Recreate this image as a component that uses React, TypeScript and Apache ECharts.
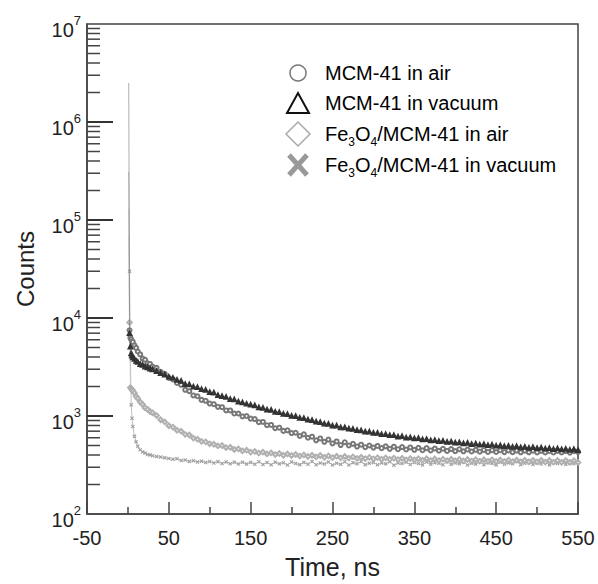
import React, { useEffect, useRef } from "react";
import * as echarts from "echarts";

const FONT = "'Liberation Sans', Arial, Helvetica, sans-serif";

// time axis (ns)
const times = [
  1, 2, 3, 4, 5, 6, 8, 10, 12, 15, 18, 21, 24, 27, 30, 35, 40, 45, 50,
  55, 60, 65, 70, 75, 80, 85, 90, 95, 100,
  105, 110, 115, 120, 125, 130, 135, 140, 145, 150,
  155, 160, 165, 170, 175, 180, 185, 190, 195, 200,
  205, 210, 215, 220, 225, 230, 235, 240, 245, 250,
  255, 260, 265, 270, 275, 280, 285, 290, 295, 300,
  305, 310, 315, 320, 325, 330, 335, 340, 345, 350,
  355, 360, 365, 370, 375, 380, 385, 390, 395, 400,
  405, 410, 415, 420, 425, 430, 435, 440, 445, 450,
  455, 460, 465, 470, 475, 480, 485, 490, 495, 500,
  505, 510, 515, 520, 525, 530, 535, 540, 545, 550,
];

// MCM-41 in vacuum
const mcmVacuum = [
  2500000, 7000, 5100, 4350, 4150, 3950, 3820, 3640, 3560, 3380, 3310, 3180, 3120, 3030, 2990, 2870, 2730, 2640, 2510,
  2450, 2330, 2280, 2110, 2100, 1990, 1960, 1870, 1840, 1750,
  1730, 1630, 1590, 1560, 1480, 1470, 1400, 1370, 1330, 1300,
  1280, 1220, 1210, 1160, 1150, 1100, 1090, 1050, 1040, 1000,
  995, 955, 950, 915, 905, 875, 865, 835, 830, 795,
  795, 765, 765, 740, 735, 715, 710, 690, 690, 670,
  670, 650, 650, 635, 635, 615, 620, 600, 605, 590,
  592, 575, 580, 562, 567, 553, 556, 543, 546, 533,
  538, 524, 530, 516, 522, 508, 514, 502, 508, 496,
  501, 490, 495, 484, 490, 478, 484, 472, 479, 468,
  474, 463, 470, 459, 465, 455, 461, 451, 457, 448,
];

// MCM-41 in air
const mcmAir = [
  130000, 7500, 6300, 6050, 5750, 5700, 5250, 4950, 4550, 4250, 3850, 3750, 3450, 3400, 3200, 3100, 2820, 2700, 2450,
  2360, 2170, 2080, 1850, 1790, 1620, 1590, 1460, 1430, 1340,
  1320, 1240, 1230, 1140, 1140, 1060, 1060, 990, 1000, 940,
  930, 865, 870, 805, 810, 750, 760, 705, 715, 670,
  675, 625, 650, 600, 615, 565, 590, 545, 575, 525,
  550, 505, 540, 500, 520, 488, 510, 480, 500, 476,
  495, 470, 490, 462, 486, 458, 482, 455, 478, 452,
  474, 447, 470, 445, 466, 442, 463, 440, 460, 438,
  458, 436, 455, 434, 452, 432, 450, 430, 448, 429,
  447, 428, 445, 427, 444, 426, 443, 426, 442, 425,
  441, 425, 440, 424, 440, 424, 439, 423, 438, 430,
];

// Fe3O4/MCM-41 in air
const feAir = [
  68000, 9000, 1950, 1900, 1850, 1800, 1720, 1590, 1510, 1390, 1310, 1210, 1170, 1110, 1080, 1010, 915, 870, 795,
  770, 715, 700, 650, 640, 595, 580, 550, 545, 520,
  515, 495, 500, 475, 480, 455, 462, 440, 448, 428,
  435, 418, 428, 410, 420, 404, 414, 398, 410, 395,
  405, 390, 401, 386, 398, 382, 395, 379, 392, 376,
  389, 374, 386, 371, 383, 369, 380, 367, 378, 365,
  376, 363, 374, 361, 372, 359, 370, 357, 368, 356,
  367, 354, 366, 352, 364, 351, 363, 350, 362, 349,
  361, 348, 360, 347, 359, 346, 358, 345, 357, 344,
  356, 343, 355, 342, 355, 341, 354, 340, 353, 340,
  353, 339, 352, 338, 352, 337, 351, 337, 350, 336,
];

// Fe3O4/MCM-41 in vacuum
const feVacuum = [
  310000, 30000, 4000, 1300, 950, 780, 620, 545, 490, 452, 430, 418, 405, 401, 393, 386, 381, 374, 368,
  362, 366, 352, 356, 344, 350, 339, 346, 335, 343,
  331, 342, 328, 340, 326, 338, 324, 337, 323, 336,
  322, 341, 320, 335, 318, 338, 325, 333, 316, 340,
  327, 319, 336, 322, 344, 318, 331, 324, 339, 317,
  330, 321, 341, 316, 334, 326, 343, 319, 329, 336,
  318, 332, 325, 342, 315, 331, 328, 338, 320, 335,
  327, 317, 340, 322, 333, 329, 318, 344, 321, 331,
  326, 339, 316, 330, 323, 341, 319, 334, 328, 317,
  337, 322, 331, 325, 343, 318, 329, 335, 320, 332,
  324, 340, 317, 333, 327, 339, 321, 330, 326, 334,
];

// log-axis tick structure
const decades = [100, 1000, 10000, 100000, 1000000];
const majorTickValues = [1000, 10000, 100000, 1000000];
const minorMultipliers = [2, 3, 4, 5, 6, 7, 8, 9];

const legendLabels = [
  "{n|MCM-41 in air}",
  "{n|MCM-41 in vacuum}",
  "{n|Fe}{s|3}{n|O}{s|4}{n|/MCM-41 in air}",
  "{n|Fe}{s|3}{n|O}{s|4}{n|/MCM-41 in vacuum}",
];

const X_PATH = "path://M2,0L5,3L8,0L10,2L7,5L10,8L8,10L5,7L2,10L0,8L3,5L0,2Z";

export default function App() {
  const ref = useRef<HTMLDivElement>(null);

  useEffect(() => {
    if (!ref.current) return;
    const chart = echarts.init(ref.current, undefined, { renderer: "svg" });

    // first point is the excitation spike: draw it as line only
    const pair = (arr: number[]) =>
      times.map((t, i) => (i === 0 ? { value: [t, arr[i]], symbol: "none" } : [t, arr[i]]));

    const minorTicks: number[][] = [];
    decades.forEach((d) => minorMultipliers.forEach((m) => minorTicks.push([-50, d * m])));

    const axisColor = "#444";

    const legendRich = {
      n: { fontSize: 20, fontFamily: FONT, color: "#222", lineHeight: 20, verticalAlign: "top" },
      s: { fontSize: 12, fontFamily: FONT, color: "#222", lineHeight: 12, padding: [12, 0, 0, 0], verticalAlign: "top" },
    };
    const rowsY = [73, 103, 134, 165];

    const legendGraphics: any[] = [
      {
        type: "circle",
        silent: true,
        shape: { cx: 298, cy: rowsY[0], r: 8 },
        style: { fill: "none", stroke: "#777", lineWidth: 1.5 },
      },
      {
        type: "polygon",
        silent: true,
        shape: { points: [[287, rowsY[1] + 10], [309, rowsY[1] + 10], [298, rowsY[1] - 10]] },
        style: { fill: "none", stroke: "#111", lineWidth: 2 },
      },
      {
        type: "polygon",
        silent: true,
        shape: { points: [[298, rowsY[2] - 12], [310, rowsY[2]], [298, rowsY[2] + 12], [286, rowsY[2]]] },
        style: { fill: "none", stroke: "#aaa", lineWidth: 1.5 },
      },
      {
        type: "line",
        silent: true,
        shape: { x1: 289, y1: rowsY[3] - 10, x2: 307, y2: rowsY[3] + 10 },
        style: { stroke: "#999", lineWidth: 5 },
      },
      {
        type: "line",
        silent: true,
        shape: { x1: 307, y1: rowsY[3] - 10, x2: 289, y2: rowsY[3] + 10 },
        style: { stroke: "#999", lineWidth: 5 },
      },
      ...legendLabels.map((lab, i) => ({
        type: "text",
        silent: true,
        x: 325,
        y: rowsY[i],
        style: {
          text: lab,
          rich: legendRich,
          verticalAlign: "middle",
          align: "left",
        },
      })),
    ];

    const option: any = {
      animation: false,
      backgroundColor: "#fff",
      grid: {
        left: 87,
        right: 20,
        top: 24,
        bottom: 70,
        show: true,
        borderColor: axisColor,
        borderWidth: 1.5,
        backgroundColor: "transparent",
      },
      xAxis: {
        type: "value",
        min: -50,
        max: 550,
        interval: 100,
        axisLine: { onZero: false, lineStyle: { color: axisColor, width: 1.5 } },
        axisTick: { show: true, inside: true, length: 12, lineStyle: { color: axisColor, width: 1.5 } },
        minorTick: { show: true, splitNumber: 2, length: 7, lineStyle: { color: axisColor, width: 1.5 } },
        splitLine: { show: false },
        minorSplitLine: { show: false },
        axisLabel: { fontSize: 20, color: "#222", margin: 14, fontFamily: FONT },
        name: "Time, ns",
        nameLocation: "middle",
        nameGap: 40,
        nameTextStyle: { fontSize: 25, color: "#222", fontFamily: FONT },
      },
      yAxis: {
        type: "log",
        logBase: 10,
        min: 100,
        max: 10000000,
        splitNumber: 5,
        axisLine: { onZero: false, lineStyle: { color: axisColor, width: 1.5 } },
        axisTick: { show: false },
        splitLine: { show: false },
        axisLabel: {
          margin: 6,
          formatter: (v: number) => `{b|10}{s|${Math.round(Math.log10(v))}}`,
          rich: {
            b: { fontSize: 20, fontFamily: FONT, color: "#222", lineHeight: 20, padding: [6, 0, 0, 0], verticalAlign: "top" },
            s: { fontSize: 13, fontFamily: FONT, color: "#222", lineHeight: 13, verticalAlign: "top" },
          },
        },
        name: "Counts",
        nameLocation: "middle",
        nameGap: 50,
        nameTextStyle: { fontSize: 24, color: "#222", fontFamily: FONT },
      },
      series: [
        {
          name: "Fe3O4/MCM-41 in vacuum",
          type: "line",
          data: pair(feVacuum),
          symbol: X_PATH,
          symbolSize: 4,
          showSymbol: true,
          itemStyle: { color: "#a0a0a0" },
          lineStyle: { width: 0.8, color: "#b0b0b0" },
          z: 2,
        },
        {
          name: "Fe3O4/MCM-41 in air",
          type: "line",
          data: pair(feAir),
          symbol: "emptyDiamond",
          symbolSize: 4.5,
          showSymbol: true,
          itemStyle: { color: "#b0b0b0", borderWidth: 0.9 },
          lineStyle: { width: 0.6, color: "#c4c4c4" },
          z: 3,
        },
        {
          name: "MCM-41 in air",
          type: "line",
          data: pair(mcmAir),
          symbol: "emptyCircle",
          symbolSize: 4,
          showSymbol: true,
          itemStyle: { color: "#777777", borderWidth: 0.8 },
          lineStyle: { width: 0.5, color: "#aaaaaa" },
          z: 4,
        },
        {
          name: "MCM-41 in vacuum",
          type: "line",
          data: pair(mcmVacuum),
          symbol: "emptyTriangle",
          symbolSize: 3.5,
          showSymbol: true,
          itemStyle: { color: "#333333", borderWidth: 0.7 },
          lineStyle: { width: 0.6, color: "#777777" },
          z: 5,
        },
        {
          type: "custom",
          data: minorTicks,
          silent: true,
          clip: false,
          z: 10,
          renderItem: (_p: any, api: any) => {
            const pt = api.coord([api.value(0), api.value(1)]);
            return {
              type: "line",
              shape: { x1: pt[0], y1: pt[1], x2: pt[0] + 13, y2: pt[1] },
              style: { stroke: axisColor, lineWidth: 1.5 },
            };
          },
        },
      ],
      graphic: legendGraphics,
    };

    chart.setOption(option);

    // decade (major) ticks, placed through the chart's own log scale
    const majorGraphics = majorTickValues.map((v) => {
      const p = chart.convertToPixel({ xAxisIndex: 0, yAxisIndex: 0 }, [-50, v]) as number[];
      return {
        type: "line",
        silent: true,
        z: 100,
        shape: { x1: p[0], y1: p[1], x2: p[0] + 26, y2: p[1] },
        style: { stroke: "#333", lineWidth: 2 },
      };
    });
    chart.setOption({ graphic: [...legendGraphics, ...majorGraphics] });

    return () => chart.dispose();
  }, []);

  return (
    <div
      ref={ref}
      style={{ position: "fixed", left: 0, top: 0, width: 598, height: 584, background: "#fff" }}
    />
  );
}
